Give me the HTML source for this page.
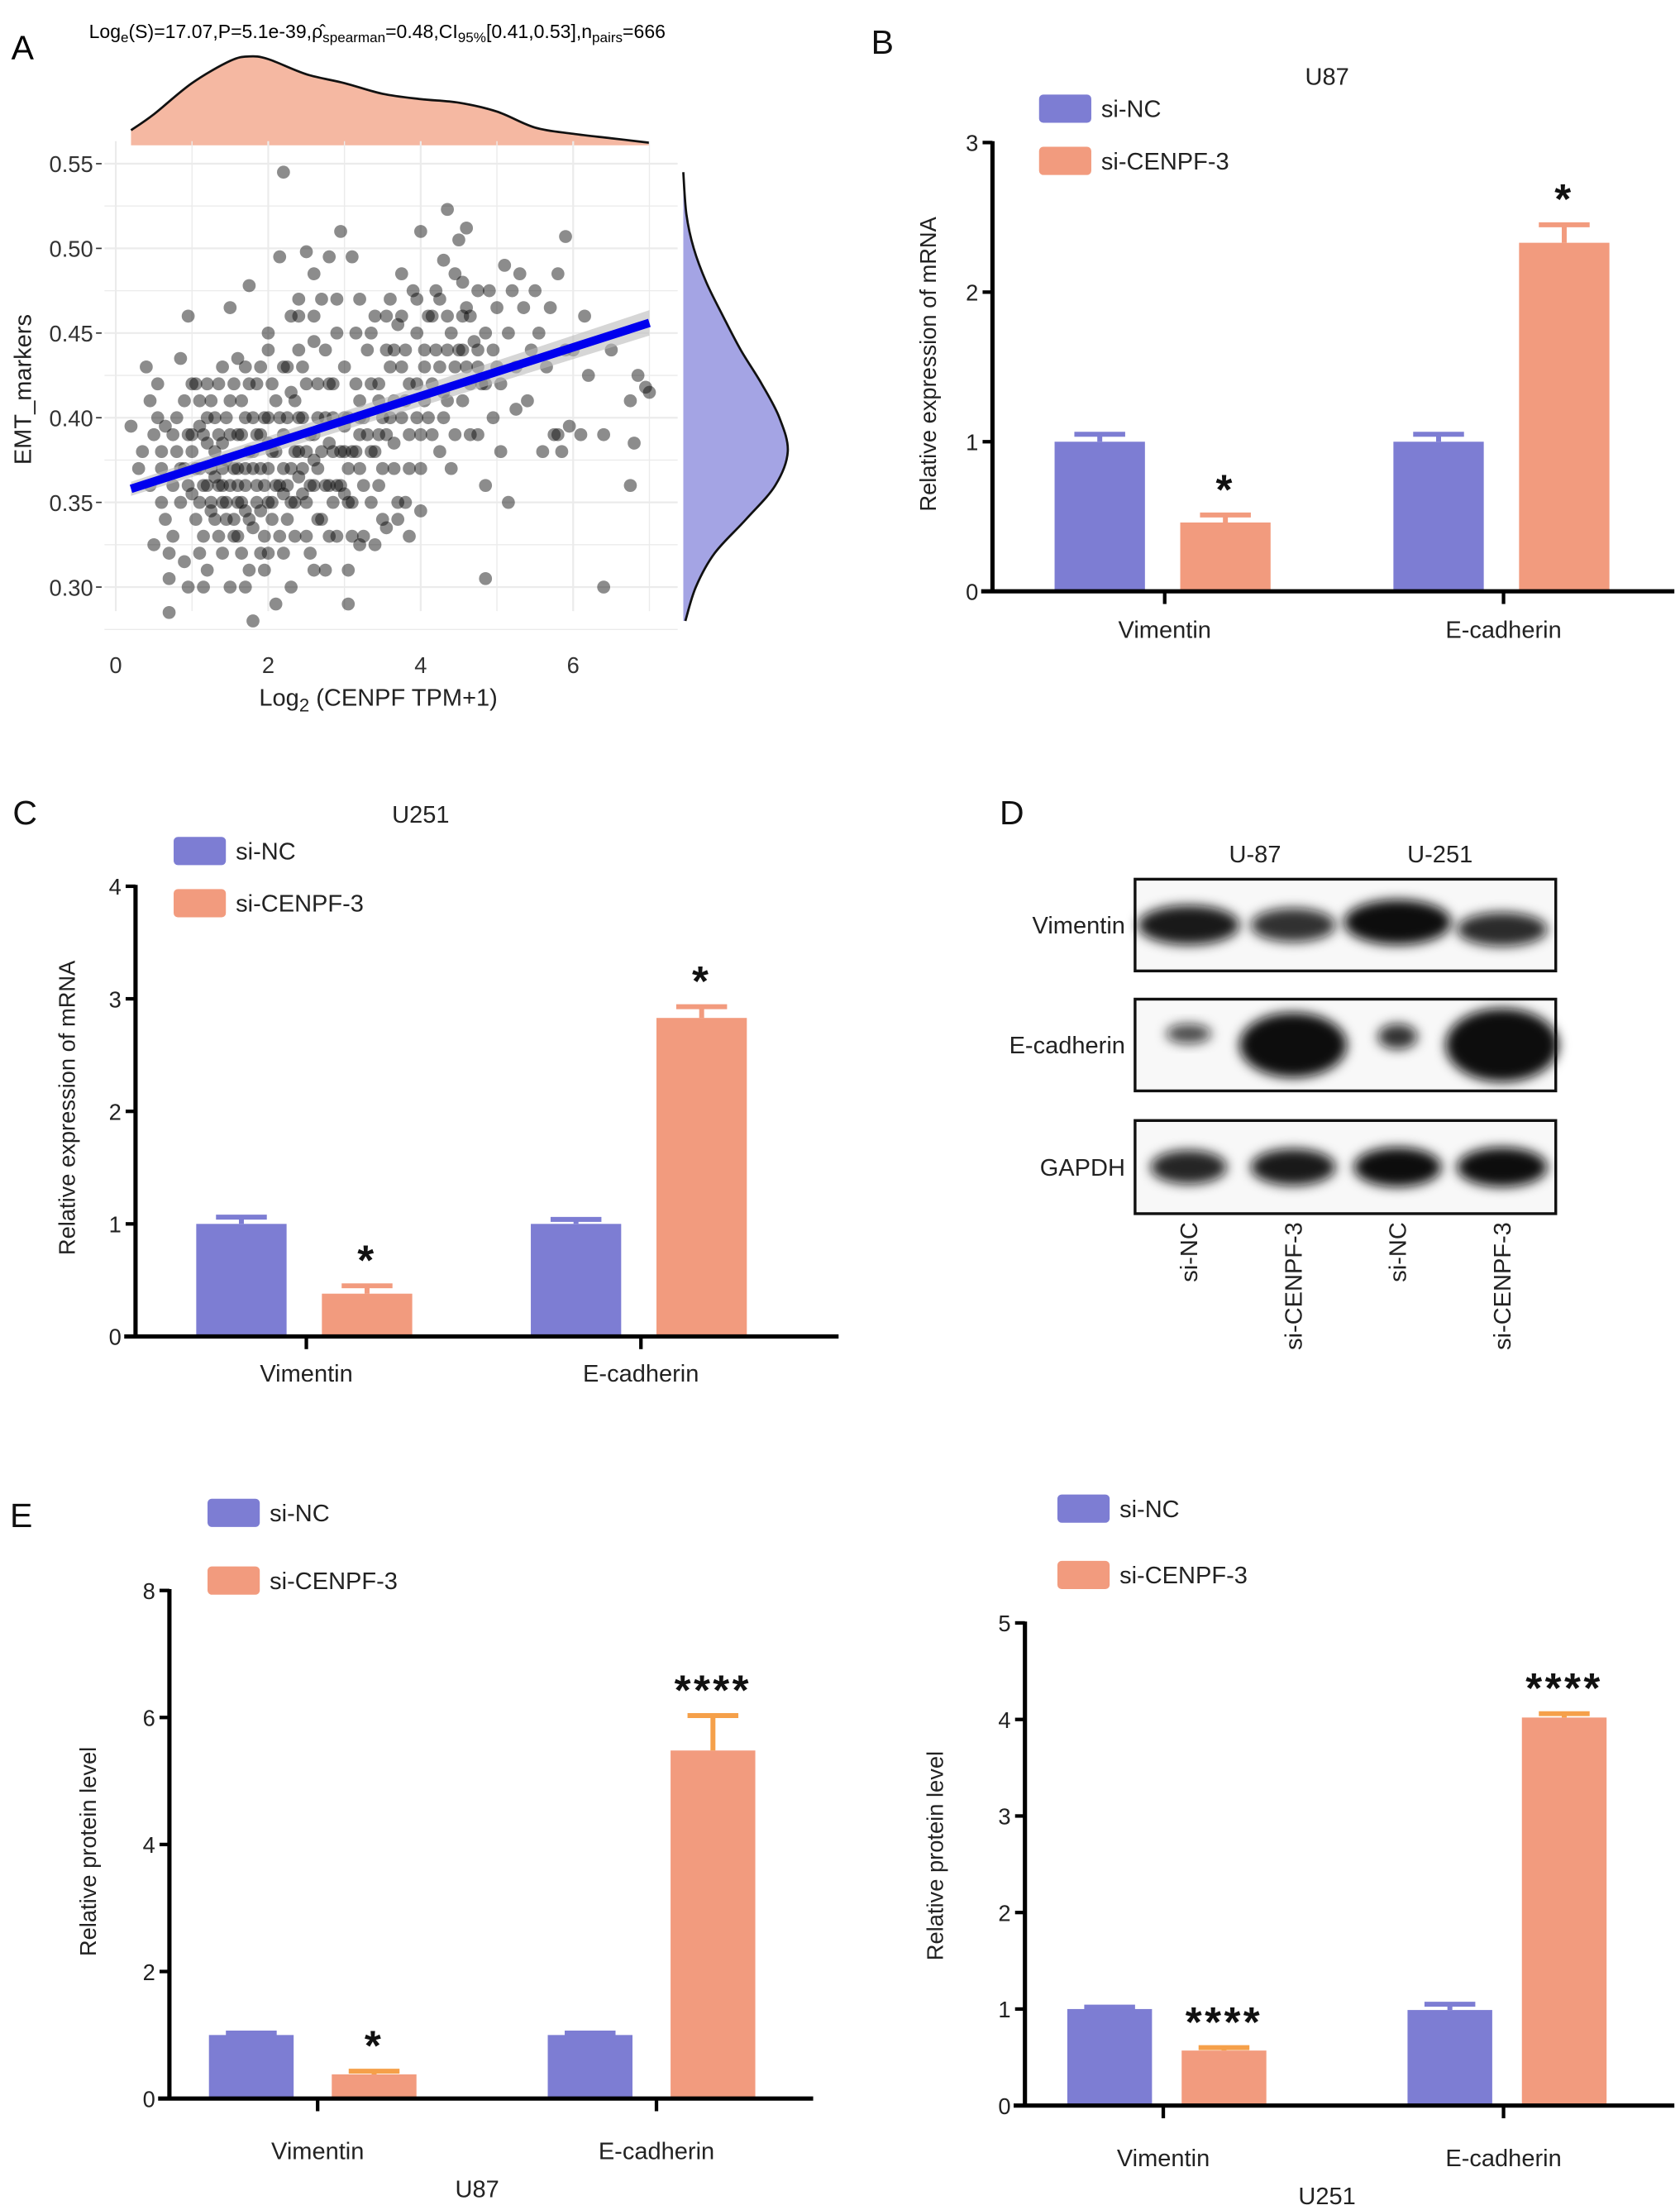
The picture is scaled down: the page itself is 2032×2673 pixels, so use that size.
<!DOCTYPE html>
<html><head><meta charset="utf-8"><title>CENPF EMT figure</title>
<style>
html,body{margin:0;padding:0;background:#fff;}
svg{display:block;font-family:"Liberation Sans",Arial,sans-serif;}
</style></head>
<body>
<svg id="fig" xmlns="http://www.w3.org/2000/svg" width="2032" height="2673" viewBox="0 0 1190 1566" preserveAspectRatio="none">
<defs>
<filter id="blur" x="-50%" y="-50%" width="200%" height="200%"><feGaussianBlur stdDeviation="4"/></filter>
</defs>
</svg>
<script>
// ---------- Panel A data ----------
const scatterPts = [[0.2,0.395],[0.35,0.38],[0.4,0.43],[0.45,0.41],[0.5,0.39],[0.5,0.325],[0.55,0.42],[0.6,0.35],[0.6,0.37],[0.65,0.395],[0.7,0.32],[0.7,0.305],[0.7,0.285],[0.75,0.36],[0.8,0.4],[0.8,0.38],[0.85,0.435],[0.9,0.315],[0.9,0.37],[0.95,0.46],[0.95,0.3],[1.0,0.42],[1.0,0.39],[1.0,0.355],[1.05,0.34],[1.1,0.41],[1.1,0.37],[1.1,0.32],[1.15,0.3],[1.2,0.42],[1.2,0.36],[1.2,0.385],[1.25,0.345],[1.3,0.4],[1.3,0.365],[1.35,0.42],[1.35,0.33],[1.4,0.385],[1.4,0.35],[1.45,0.375],[1.5,0.465],[1.5,0.41],[1.5,0.36],[1.5,0.3],[1.55,0.34],[1.6,0.435],[1.6,0.39],[1.6,0.35],[1.65,0.32],[1.7,0.4],[1.7,0.37],[1.7,0.345],[1.75,0.478],[1.75,0.42],[1.75,0.31],[1.8,0.38],[1.8,0.335],[1.8,0.28],[1.85,0.36],[1.9,0.43],[1.9,0.39],[1.9,0.345],[1.95,0.31],[2.0,0.44],[2.0,0.4],[2.0,0.37],[2.0,0.32],[2.05,0.35],[2.1,0.41],[2.1,0.38],[2.1,0.29],[2.15,0.495],[2.15,0.36],[2.2,0.545],[2.2,0.43],[2.2,0.39],[2.25,0.34],[2.3,0.46],[2.3,0.415],[2.3,0.37],[2.35,0.33],[2.4,0.47],[2.4,0.44],[2.4,0.4],[2.45,0.355],[2.5,0.498],[2.5,0.42],[2.5,0.38],[2.55,0.32],[2.6,0.485],[2.6,0.445],[2.6,0.36],[2.65,0.4],[2.7,0.47],[2.7,0.34],[2.75,0.31],[2.8,0.495],[2.8,0.42],[2.85,0.38],[2.9,0.45],[2.9,0.36],[2.9,0.33],[2.95,0.51],[3.0,0.43],[3.0,0.4],[3.0,0.355],[3.05,0.31],[3.05,0.29],[3.1,0.495],[3.1,0.38],[3.15,0.45],[3.2,0.41],[3.2,0.37],[3.2,0.325],[3.3,0.44],[3.3,0.39],[3.35,0.35],[3.4,0.46],[3.45,0.42],[3.5,0.4],[3.5,0.37],[3.55,0.335],[3.6,0.47],[3.6,0.43],[3.65,0.385],[3.7,0.455],[3.7,0.35],[3.75,0.485],[3.8,0.44],[3.8,0.41],[3.85,0.37],[3.85,0.33],[3.9,0.475],[3.95,0.42],[4.0,0.51],[4.0,0.39],[4.0,0.345],[4.05,0.43],[4.1,0.46],[4.1,0.4],[4.2,0.475],[4.2,0.44],[4.25,0.38],[4.3,0.493],[4.3,0.415],[4.35,0.523],[4.4,0.45],[4.4,0.37],[4.45,0.485],[4.5,0.505],[4.5,0.44],[4.55,0.41],[4.6,0.512],[4.6,0.465],[4.65,0.39],[4.7,0.445],[4.75,0.475],[4.8,0.42],[4.85,0.36],[4.85,0.305],[4.9,0.475],[4.95,0.4],[5.0,0.465],[5.0,0.43],[5.05,0.38],[5.1,0.49],[5.15,0.35],[5.2,0.475],[5.25,0.405],[5.3,0.485],[5.35,0.465],[5.4,0.41],[5.5,0.475],[5.55,0.45],[5.6,0.38],[5.7,0.465],[5.75,0.39],[5.8,0.485],[5.85,0.38],[5.9,0.507],[5.95,0.395],[6.0,0.44],[6.15,0.46],[6.2,0.425],[6.4,0.39],[6.4,0.3],[6.5,0.44],[6.75,0.36],[6.75,0.41],[6.8,0.385],[6.85,0.425],[6.95,0.418],[7.0,0.415],
[1.0,0.38],[1.1,0.35],[1.2,0.4],[1.3,0.38],[1.4,0.36],[1.5,0.39],[1.6,0.37],[1.7,0.36],[1.8,0.4],[1.9,0.37],[2.0,0.35],[2.1,0.36],[2.2,0.37],[2.3,0.35],[2.4,0.38],[2.5,0.35],[2.6,0.39],[2.7,0.38],[2.8,0.36],[3.0,0.38],[3.1,0.35],[3.2,0.39],[1.25,0.37],[1.45,0.4],[1.65,0.41],[1.85,0.39],[2.05,0.42],[2.25,0.4],[2.45,0.43],[2.65,0.42],[2.85,0.4],[3.05,0.37],[3.25,0.36],[3.45,0.39],[3.65,0.41],[0.85,0.37],[0.75,0.39],[1.15,0.33],[1.55,0.33],[1.95,0.33],[2.35,0.41],[2.75,0.36],[3.35,0.42],[3.55,0.44],[3.75,0.43],[4.15,0.42],[4.35,0.44],[4.55,0.46],[4.75,0.43],[3.95,0.45],
[0.3,0.37],[0.45,0.36],[0.55,0.4],[0.65,0.34],[0.75,0.33],[0.85,0.35],[0.95,0.39],[0.95,0.36],[1.05,0.42],[1.05,0.37],[1.15,0.39],[1.15,0.36],[1.25,0.41],[1.25,0.35],[1.35,0.39],[1.35,0.36],[1.45,0.35],[1.45,0.34],[1.55,0.37],[1.55,0.42],[1.65,0.39],[1.65,0.35],[1.75,0.38],[1.75,0.34],[1.85,0.42],[1.85,0.35],[1.95,0.36],[1.95,0.4],[2.05,0.38],[2.05,0.34],[2.15,0.4],[2.15,0.33],[2.25,0.36],[2.25,0.43],[2.35,0.38],[2.35,0.35],[2.45,0.37],[2.45,0.4],[2.55,0.39],[2.55,0.36],[2.65,0.37],[2.65,0.34],[2.75,0.4],[2.75,0.44],[2.85,0.35],[2.85,0.42],[2.95,0.38],[2.95,0.36],[3.05,0.4],[3.05,0.35],[3.15,0.38],[3.15,0.42],[3.25,0.4],[3.25,0.33],[3.35,0.38],[3.35,0.45],[3.45,0.41],[3.45,0.36],[3.55,0.39],[3.55,0.46],[3.65,0.37],[3.65,0.44],[3.75,0.4],[3.75,0.46],[3.85,0.42],[3.85,0.39],[3.95,0.4],[3.95,0.47],[4.05,0.44],[4.05,0.41],[4.15,0.39],[4.15,0.46],[4.25,0.43],[4.25,0.47],[4.35,0.41],[4.35,0.46],[4.45,0.43],[4.45,0.39],[4.55,0.44],[4.55,0.48],[4.65,0.42],[4.65,0.46],[4.75,0.44],[4.75,0.39],[4.85,0.45],[4.85,0.42],[4.95,0.44],[5.05,0.42],[5.15,0.45],[5.25,0.43],[5.45,0.44],[5.65,0.43],[5.8,0.39],[5.9,0.44],[6.1,0.39],[1.3,0.34],[1.6,0.33],[1.9,0.32],[2.2,0.32],[2.5,0.33],[2.8,0.33],[3.1,0.33],[3.5,0.34],[3.8,0.35],[1.4,0.43],[1.7,0.43],[2.0,0.45],[2.6,0.46],[2.9,0.47],[3.2,0.47],[2.4,0.46],[0.6,0.38],[0.9,0.41],[1.1,0.395],[1.4,0.37],[1.6,0.36],[1.8,0.37],[2.0,0.385],[2.2,0.355],[2.4,0.365],[2.6,0.375],[2.8,0.385],[3.0,0.395],[3.2,0.4],[3.4,0.38],[3.6,0.4],[1.2,0.31],[1.4,0.32],[1.7,0.3],[2.3,0.3],[2.6,0.31],[3.4,0.325],[3.7,0.34],[4.0,0.37],[4.3,0.4],[4.6,0.43]];
const regX = [0.2, 7.0];
const regY = [0.358, 0.456];
const xTicksA = [0, 2, 4, 6];
const yTicksA = [0.30, 0.35, 0.40, 0.45, 0.50, 0.55];
const topDensX = [0.2,0.5,1.0,1.5,1.75,2.0,2.5,3.0,3.5,4.0,4.5,5.0,5.5,6.0,6.5,7.0];
const topDensV = [0.17,0.35,0.7,0.95,1.0,0.97,0.8,0.7,0.58,0.52,0.48,0.38,0.2,0.13,0.08,0.03];
const rightDensY = [0.545,0.52,0.50,0.48,0.46,0.44,0.42,0.40,0.38,0.36,0.34,0.32,0.30,0.28];
const rightDensV = [0.0,0.03,0.1,0.22,0.38,0.55,0.75,0.92,1.0,0.88,0.6,0.3,0.12,0.02];

// ---------- Panel B data (U87 mRNA) ----------
const bCats = ["Vimentin","E-cadherin"];
const bNC = [1.0, 1.0];
const bNCerr = [1.05, 1.05];
const bKD = [0.46, 2.33];
const bKDerr = [0.51, 2.45];
const bStars = ["*","*"];
const bTicks = [0,1,2,3];

// ---------- Panel C data (U251 mRNA) ----------
const cCats = ["Vimentin","E-cadherin"];
const cNC = [1.0, 1.0];
const cNCerr = [1.06, 1.04];
const cKD = [0.38, 2.83];
const cKDerr = [0.45, 2.93];
const cStars = ["*","*"];
const cTicks = [0,1,2,3,4];

// ---------- Panel E left (U87 protein) ----------
const eCats = ["Vimentin","E-cadherin"];
const eNC = [1.0, 1.0];
const eNCerr = [1.03, 1.03];
const eKD = [0.38, 5.48];
const eKDerr = [0.43, 6.03];
const eStars = ["*","****"];
const eTicks = [0,2,4,6,8];

// ---------- Panel E right (U251 protein) ----------
const fCats = ["Vimentin","E-cadherin"];
const fNC = [1.0, 0.99];
const fNCerr = [1.02, 1.05];
const fKD = [0.57, 4.02];
const fKDerr = [0.60, 4.06];
const fStars = ["****","****"];
const fTicks = [0,1,2,3,4,5];

const NS = "http://www.w3.org/2000/svg";
const svg = document.getElementById("fig");
const PURPLE = "#7d7dd3", SALMON = "#f29b7e";
function mk(tag, attrs, parent, text) {
  const el = document.createElementNS(NS, tag);
  for (const k in attrs) el.setAttribute(k, attrs[k]);
  if (text !== undefined) el.textContent = text;
  (parent || svg).appendChild(el);
  return el;
}
function smoothPath(pts) {
  let d = "M" + pts[0][0] + "," + pts[0][1];
  for (let i = 0; i < pts.length - 1; i++) {
    const p0 = pts[Math.max(0, i - 1)], p1 = pts[i], p2 = pts[i + 1], p3 = pts[Math.min(pts.length - 1, i + 2)];
    const c1x = p1[0] + (p2[0] - p0[0]) / 6, c1y = p1[1] + (p2[1] - p0[1]) / 6;
    const c2x = p2[0] - (p3[0] - p1[0]) / 6, c2y = p2[1] - (p3[1] - p1[1]) / 6;
    d += " C" + c1x + "," + c1y + " " + c2x + "," + c2y + " " + p2[0] + "," + p2[1];
  }
  return d;
}

// ================= PANEL A =================
(function () {
  const g = mk("g", {});
  
  
  const xs = v => 82 + v * 54;
  const ys = v => 116 + (0.55 - v) * 1200;
  let t = mk("text", {x: 8, y: 42, "font-size": 24}, g, "A");
  
  
  t = mk("text", {x: 63, y: 27, "font-size": 13.5}, g);
  
  
  t.innerHTML = 'Log<tspan dy="3" font-size="10">e</tspan><tspan dy="-3">(S)=17.07,P=5.1e-39,</tspan><tspan>ρ̂</tspan><tspan dy="3" font-size="10">spearman</tspan><tspan dy="-3">=0.48,CI</tspan><tspan dy="3" font-size="10">95%</tspan><tspan dy="-3">[0.41,0.53],n</tspan><tspan dy="3" font-size="10">pairs</tspan><tspan dy="-3">=666</tspan>';
  const base = 103, peakH = 63;
  const tp = topDensX.map((x, i) => [xs(x), base - topDensV[i] * peakH]);
  let d = smoothPath(tp);
  let p = mk("path", {d: d + " L" + tp[tp.length-1][0] + "," + base + " L" + tp[0][0] + "," + base + " Z", fill: "#f5b8a2", stroke: "none"}, g);
  
  
  p = mk("path", {d: d, fill: "none", stroke: "#111", "stroke-width": 1.6}, g);
  
  
  const rb = 484, rw = 74;
  const rp = rightDensY.map((y, i) => [rb + rightDensV[i] * rw, ys(y)]);
  d = smoothPath(rp);
  p = mk("path", {d: d + " L" + rb + "," + rp[rp.length-1][1] + " L" + rb + "," + rp[0][1] + " Z", fill: "#a4a4e4", stroke: "none"}, g);
  
  
  p = mk("path", {d: d, fill: "none", stroke: "#111", "stroke-width": 1.6}, g);
  
  
  const L = 74, R = 480, T = 100, B = 433;
  for (let v = 0; v <= 7; v++) {
    const ln = mk("line", {x1: xs(v), x2: xs(v), y1: T, y2: B, stroke: "#ebebeb", "stroke-width": v % 2 ? 0.8 : 1.3}, g);
    
    
  }
  for (let v = 0.275; v <= 0.551; v += 0.025) {
    const ln = mk("line", {x1: L, x2: R, y1: ys(v), y2: ys(v), stroke: "#ebebeb", "stroke-width": Math.round(v * 1000) % 50 ? 0.8 : 1.3}, g);
    
    
  }
  scatterPts.forEach(pt => {
    const c = mk("circle", {cx: xs(pt[0]), cy: ys(pt[1]), r: 4.6, fill: "#000", "fill-opacity": 0.45}, g);
    
    
  });
  const band = mk("polygon", {points: [xs(regX[0]) + "," + (ys(regY[0]) - 5), xs(regX[1]) + "," + (ys(regY[1]) - 9), xs(regX[1]) + "," + (ys(regY[1]) + 9), xs(regX[0]) + "," + (ys(regY[0]) + 5)].join(" "), fill: "#bbb", "fill-opacity": 0.6}, g);
  
  
  const rl = mk("line", {x1: xs(regX[0]), y1: ys(regY[0]), x2: xs(regX[1]), y2: ys(regY[1]), stroke: "#0000ee", "stroke-width": 6}, g);
  
  
  xTicksA.forEach(v => {
    const tt = mk("text", {x: xs(v), y: 477, "font-size": 16, "text-anchor": "middle", fill: "#333"}, g, String(v));
    
    
  });
  yTicksA.forEach(v => {
    const tt = mk("text", {x: 66, y: ys(v) + 6, "font-size": 16, "text-anchor": "end", fill: "#333"}, g, v.toFixed(2));
    
    
    const tk = mk("line", {x1: 68, x2: 72, y1: ys(v), y2: ys(v), stroke: "#333"}, g);
    
    
  });
  t = mk("text", {x: 268, y: 500, "font-size": 17, "text-anchor": "middle", fill: "#222"}, g);
  t.innerHTML = 'Log<tspan dy="4" font-size="13">2</tspan><tspan dy="-4"> (CENPF TPM+1)</tspan>';
  
  
  t = mk("text", {x: 0, y: 0, "font-size": 17, "text-anchor": "middle", fill: "#222", transform: "translate(22,276) rotate(-90)"}, g, "EMT_markers");
  
  
})();

// ================= BAR CHART HELPER =================
function barChart(o, nc, ncErr, kd, kdErr, stars, cats, ticks) {
  const g = mk("g", {});
  
  
  const ys = v => o.y0 - v / o.max * (o.y0 - o.yTop);
  let r = mk("rect", {x: o.legX, y: o.legY1, width: 37, height: 20, rx: 3, fill: PURPLE}, g);
  
  
  let t = mk("text", {x: o.legX + 44, y: o.legY1 + 16, "font-size": 17, fill: "#222"}, g, "si-NC");
  
  
  r = mk("rect", {x: o.legX, y: o.legY2, width: 37, height: 20, rx: 3, fill: SALMON}, g);
  
  
  t = mk("text", {x: o.legX + 44, y: o.legY2 + 16, "font-size": 17, fill: "#222"}, g, "si-CENPF-3");
  
  
  cats.forEach((c, i) => {
    const cx = o.centers[i];
    [[nc, ncErr, PURPLE, PURPLE, o.off[0], 'bar-si-nc'], [kd, kdErr, SALMON, o.errKD, o.off[1], 'bar-si-cenpf-3']].forEach(s => {
      const v = s[0][i], e = s[1][i], bx = cx + s[4] - o.bw / 2;
      const b = mk("rect", {x: bx, y: ys(v), width: o.bw, height: o.y0 - ys(v), fill: s[2]}, g);
      
      
      const eb = mk("path", {d: "M" + (cx + s[4]) + "," + ys(v) + " V" + ys(e) + " M" + (cx + s[4] - 18) + "," + ys(e) + " H" + (cx + s[4] + 18), stroke: s[3], "stroke-width": 3.5, fill: "none"}, g);
      
      
    });
    const st = mk("text", {x: cx + o.off[1], y: ys(kdErr[i]) - 8, "font-size": 30, "font-weight": "bold", "text-anchor": "middle", "letter-spacing": 2, fill: "#111"}, g, stars[i]);
    
    
    const ct = mk("text", {x: cx, y: o.catY, "font-size": 17, "text-anchor": "middle", fill: "#222"}, g, c);
    
    
    const tk = mk("line", {x1: cx, x2: cx, y1: o.y0, y2: o.y0 + 9, stroke: "#000", "stroke-width": 2.5}, g);
    
    
  });
  const ya = mk("line", {x1: o.ax, x2: o.ax, y1: o.yTop - 1, y2: o.y0 + 1, stroke: "#000", "stroke-width": 3}, g);
  
  
  const xa = mk("line", {x1: o.ax - 8, x2: o.xEnd, y1: o.y0, y2: o.y0, stroke: "#000", "stroke-width": 3}, g);
  
  
  ticks.forEach(v => {
    const tk = mk("line", {x1: o.ax - 7, x2: o.ax, y1: ys(v), y2: ys(v), stroke: "#000", "stroke-width": 2.5}, g);
    
    
    const tl = mk("text", {x: o.ax - 10, y: ys(v) + 6, "font-size": 16, "text-anchor": "end", fill: "#222"}, g, String(v));
    
    
  });
  t = mk("text", {x: 0, y: 0, "font-size": 16, "text-anchor": "middle", fill: "#222", transform: "translate(" + o.ylX + "," + o.ylY + ") rotate(-90)"}, g, o.ylabel);
  
  
  if (o.title) {
    t = mk("text", {x: o.titleX, y: o.titleY, "font-size": 17, "text-anchor": "middle", fill: "#222"}, g, o.title);
    
    
  }
  if (o.letter) {
    t = mk("text", {x: o.letterX, y: o.letterY, "font-size": 24, fill: "#111"}, g, o.letter);
    
    
  }
}

barChart({name: "panel-b-u87-mrna", y0: 419, yTop: 101, max: 3, ax: 703, xEnd: 1186, centers: [825, 1065], off: [-46, 43], bw: 64, errKD: SALMON,
  legX: 736, legY1: 67, legY2: 104, catY: 452, ylX: 663, ylY: 258, ylabel: "Relative expression of mRNA", title: "U87", titleX: 940, titleY: 60, letter: "B", letterX: 617, letterY: 38},
  bNC, bNCerr, bKD, bKDerr, bStars, bCats, bTicks);
barChart({name: "panel-c-u251-mrna", y0: 947, yTop: 628, max: 4, ax: 96, xEnd: 594, centers: [217, 454], off: [-46, 43], bw: 64, errKD: SALMON,
  legX: 123, legY1: 593, legY2: 630, catY: 979, ylX: 53, ylY: 785, ylabel: "Relative expression of mRNA", title: "U251", titleX: 298, titleY: 583, letter: "C", letterX: 9, letterY: 584},
  cNC, cNCerr, cKD, cKDerr, cStars, cCats, cTicks);
barChart({name: "panel-e-u87-protein", y0: 1487, yTop: 1127, max: 8, ax: 120, xEnd: 576, centers: [225, 465], off: [-47, 40], bw: 60, errKD: "#f5a04a",
  legX: 147, legY1: 1062, legY2: 1110, catY: 1530, ylX: 68, ylY: 1312, ylabel: "Relative protein level", title: "U87", titleX: 338, titleY: 1557, letter: "E", letterX: 7, letterY: 1082},
  eNC, eNCerr, eKD, eKDerr, eStars, eCats, eTicks);
barChart({name: "panel-e-u251-protein", y0: 1492, yTop: 1150, max: 5, ax: 726, xEnd: 1186, centers: [824, 1065], off: [-38, 43], bw: 60, errKD: "#f5a04a",
  legX: 749, legY1: 1059, legY2: 1106, catY: 1535, ylX: 668, ylY: 1315, ylabel: "Relative protein level", title: "U251", titleX: 940, titleY: 1562},
  fNC, fNCerr, fKD, fKDerr, fStars, fCats, fTicks);

// ================= PANEL D (western blot) =================
(function () {
  const g = mk("g", {});
  
  
  let t = mk("text", {x: 708, y: 584, "font-size": 24, fill: "#111"}, g, "D");
  
  
  t = mk("text", {x: 889, y: 611, "font-size": 17, "text-anchor": "middle", fill: "#222"}, g, "U-87");
  
  
  t = mk("text", {x: 1020, y: 611, "font-size": 17, "text-anchor": "middle", fill: "#222"}, g, "U-251");
  
  
  const lanes = [842, 916, 990, 1064];
  const rows = [
    {name: "Vimentin", y: 623, h: 65, bands: [[0, 36, 14], [0, 30, 12], [-2, 38, 16], [3, 32, 12]], op: [0.95, 0.85, 1, 0.88]},
    {name: "E-cadherin", y: 708, h: 65, bands: [[-8, 16, 7], [0, 38, 23], [-6, 14, 9], [0, 40, 26]], op: [0.75, 1, 0.85, 1]},
    {name: "GAPDH", y: 794, h: 66, bands: [[0, 27, 12], [0, 30, 13], [0, 31, 14], [0, 32, 14]], op: [0.9, 0.95, 1, 1]}
  ];
  rows.forEach(r => {
    const box = mk("rect", {x: 804, y: r.y, width: 298, height: r.h, fill: "#f8f8f8", stroke: "#111", "stroke-width": 2}, g);
    
    
    r.bands.forEach((b, i) => {
      const e = mk("ellipse", {cx: lanes[i], cy: r.y + r.h / 2 + b[0], rx: b[1], ry: b[2], fill: "#111", "fill-opacity": r.op[i], filter: "url(#blur)"}, g);
      
      
    });
    const lt = mk("text", {x: 797, y: r.y + r.h / 2 + 6, "font-size": 17, "text-anchor": "end", fill: "#222"}, g, r.name);
    
    
  });
  ["si-NC", "si-CENPF-3", "si-NC", "si-CENPF-3"].forEach((s, i) => {
    const lt = mk("text", {x: 0, y: 0, "font-size": 17, "text-anchor": "end", fill: "#222", transform: "translate(" + (lanes[i] + 6) + ",866) rotate(-90)"}, g, s);
    
    
  });
})();
</script>
</body></html>
